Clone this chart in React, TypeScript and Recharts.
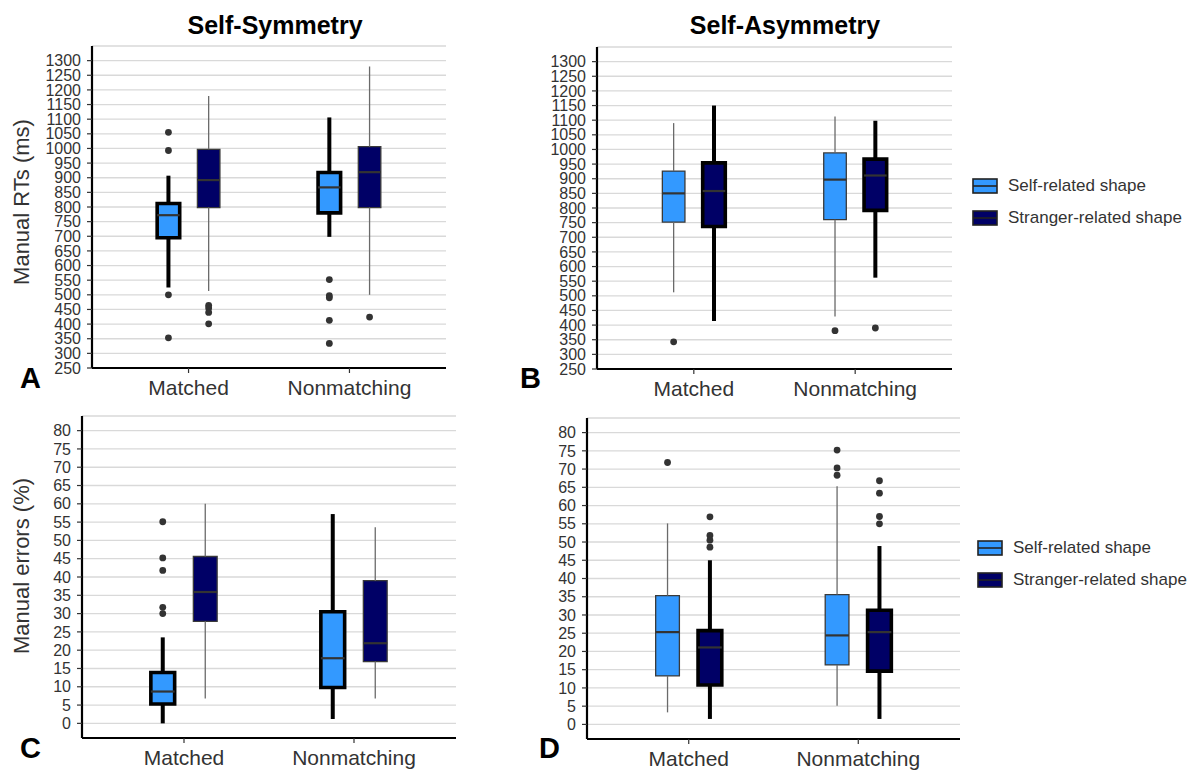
import React from "react";
import {
  ComposedChart,
  XAxis,
  YAxis,
  CartesianGrid,
  ReferenceArea,
  ReferenceLine,
  Scatter,
} from "recharts";

const categories = ["Matched", "Nonmatching"];
const seriesNames = ["Self-related shape", "Stranger-related shape"];
const seriesColors = ["#3399FF", "#000066"];

const rtTicks = [250, 300, 350, 400, 450, 500, 550, 600, 650, 700, 750, 800, 850, 900, 950, 1000, 1050, 1100, 1150, 1200, 1250, 1300];
const errTicks = [0, 5, 10, 15, 20, 25, 30, 35, 40, 45, 50, 55, 60, 65, 70, 75, 80];

// [lower whisker, Q1, median, Q3, upper whisker] for Matched, Nonmatching
const rtSymSelf = [[525, 695, 772, 812, 907], [698, 780, 867, 918, 1106]];
const rtSymStranger = [[513, 798, 892, 997, 1179], [500, 798, 919, 1006, 1280]];
const rtAsymSelf = [[512, 752, 850, 926, 1090], [429, 760, 897, 988, 1113]];
const rtAsymStranger = [[414, 737, 858, 954, 1150], [562, 792, 911, 967, 1098]];
const errSymSelf = [[0, 5.3, 8.7, 13.9, 23.5], [1.2, 9.8, 17.8, 30.5, 57.2]];
const errSymStranger = [[6.8, 27.9, 35.9, 45.6, 60.0], [6.8, 16.9, 21.9, 39.0, 53.6]];
const errAsymSelf = [[3.3, 13.3, 25.3, 35.3, 55.1], [5.1, 16.3, 24.4, 35.6, 65.3]];
const errAsymStranger = [[1.5, 10.8, 21.1, 25.7, 45.0], [1.5, 14.6, 25.3, 31.3, 48.9]];

// outliers per category
const rtSymSelfOut = [[1055, 993, 500, 353], [552, 497, 490, 413, 334]];
const rtSymStrangerOut = [[464, 455, 440, 401], [424]];
const rtAsymSelfOut = [[343], [381]];
const rtAsymStrangerOut = [[], [390]];
const errSymSelfOut = [[55.1, 45.2, 41.8, 31.7, 30.0], []];
const errSymStrangerOut = [[], []];
const errAsymSelfOut = [[71.8], [75.2, 70.3, 68.3]];
const errAsymStrangerOut = [[56.9, 51.8, 50.5, 48.6], [66.8, 63.4, 57.0, 55.0]];

const FONT = "'Liberation Sans', Arial, sans-serif";
const TEXT = "#333333";
const OFFSET = 0.125;
const HALF = 0.07;
const YW = 52;

type PanelProps = {
  plotLeft: number;
  plotTop: number;
  plotRight: number;
  plotBottom: number;
  domain: [number, number];
  ticks: number[];
  stats: number[][][];
  outliers: number[][][];
  thick: number;
};

function Panel({ plotLeft, plotTop, plotRight, plotBottom, domain, ticks, stats, outliers, thick }: PanelProps) {
  const w = plotRight - plotLeft + YW + 10;
  const h = plotBottom - plotTop + 10 + 42;

  const elems: React.ReactNode[] = [];
  const points: { x: number; y: number }[] = [];

  stats.forEach((series, s) => {
    const isThick = s === thick;
    const lineColor = isThick ? "#000" : "#6a6a6a";
    const lineW = isThick ? 4 : 1.3;
    series.forEach((st, i) => {
      const [lo, q1, med, q3, hi] = st;
      const xc = i + 1 + (s === 0 ? -OFFSET : OFFSET);
      elems.push(
        <ReferenceLine key={`wl${s}${i}`} segment={[{ x: xc, y: lo }, { x: xc, y: q1 }]} stroke={lineColor} strokeWidth={lineW} />,
        <ReferenceLine key={`wh${s}${i}`} segment={[{ x: xc, y: q3 }, { x: xc, y: hi }]} stroke={lineColor} strokeWidth={lineW} />,
        <ReferenceArea
          key={`b${s}${i}`}
          x1={xc - HALF}
          x2={xc + HALF}
          y1={q1}
          y2={q3}
          fill={seriesColors[s]}
          fillOpacity={1}
          stroke={isThick ? "#000" : "#3a3a3a"}
          strokeWidth={isThick ? 3.6 : 1.3}
        />,
        <ReferenceLine
          key={`m${s}${i}`}
          segment={[{ x: xc - HALF, y: med }, { x: xc + HALF, y: med }]}
          stroke="#333"
          strokeWidth={2.2}
        />
      );
      outliers[s][i].forEach((v) => points.push({ x: xc, y: v }));
    });
  });

  return (
    <div style={{ position: "absolute", left: plotLeft - YW, top: plotTop - 10 }}>
      <ComposedChart width={w} height={h} margin={{ top: 10, right: 10, bottom: 2, left: 0 }}>
        <CartesianGrid vertical={false} stroke="#d9d9d9" strokeWidth={1.3} />
        <XAxis
          type="number"
          dataKey="x"
          domain={[0.4, 2.6]}
          ticks={[1, 2]}
          interval={0}
          allowDataOverflow
          tickFormatter={(v: number) => categories[v - 1]}
          axisLine={{ stroke: "#000", strokeWidth: 2.2 }}
          tickLine={{ stroke: TEXT, strokeWidth: 1.2 }}
          tickSize={5}
          tickMargin={7}
          tick={{ fill: TEXT, fontSize: 21, fontFamily: FONT }}
          height={40}
        />
        <YAxis
          type="number"
          dataKey="y"
          domain={domain}
          ticks={ticks}
          interval={0}
          allowDataOverflow
          width={YW}
          axisLine={{ stroke: "#000", strokeWidth: 2.2 }}
          tickLine={{ stroke: TEXT, strokeWidth: 1.2 }}
          tickSize={5}
          tickMargin={6}
          tick={{ fill: TEXT, fontSize: 16, fontFamily: FONT }}
        />
        {elems}
        <Scatter
          data={points}
          dataKey="y"
          isAnimationActive={false}
          shape={(p: any) => <circle cx={p.cx} cy={p.cy} r={3.4} fill="#333" />}
        />
      </ComposedChart>
    </div>
  );
}

function Legend({ left, top }: { left: number; top: number }) {
  return (
    <div style={{ position: "absolute", left, top, fontFamily: FONT }}>
      {seriesNames.map((n, i) => (
        <div key={n} style={{ display: "flex", alignItems: "center", height: 32 }}>
          <svg width={26} height={16} style={{ marginRight: 10 }}>
            <rect x={1} y={1} width={24} height={14} fill={seriesColors[i]} stroke="#222" strokeWidth={1.6} />
            <line x1={1} x2={25} y1={8} y2={8} stroke="#222" strokeWidth={1.6} />
          </svg>
          <span style={{ fontSize: 17, color: TEXT }}>{n}</span>
        </div>
      ))}
    </div>
  );
}

const txt = (s: React.CSSProperties): React.CSSProperties => ({
  position: "absolute",
  fontFamily: FONT,
  color: TEXT,
  whiteSpace: "nowrap",
  lineHeight: 1,
  ...s,
});

export default function App() {
  return (
    <div style={{ position: "absolute", left: 0, top: 0, width: 1191, height: 772, background: "#fff", overflow: "hidden" }}>
      <Panel plotLeft={92} plotTop={46} plotRight={446} plotBottom={368} domain={[250, 1350]} ticks={rtTicks}
        stats={[rtSymSelf, rtSymStranger]} outliers={[rtSymSelfOut, rtSymStrangerOut]} thick={0} />
      <Panel plotLeft={597} plotTop={47} plotRight={952} plotBottom={369} domain={[250, 1350]} ticks={rtTicks}
        stats={[rtAsymSelf, rtAsymStranger]} outliers={[rtAsymSelfOut, rtAsymStrangerOut]} thick={1} />
      <Panel plotLeft={82} plotTop={416} plotRight={456} plotBottom={738} domain={[-4, 84]} ticks={errTicks}
        stats={[errSymSelf, errSymStranger]} outliers={[errSymSelfOut, errSymStrangerOut]} thick={0} />
      <Panel plotLeft={587} plotTop={418} plotRight={960} plotBottom={739} domain={[-4, 84]} ticks={errTicks}
        stats={[errAsymSelf, errAsymStranger]} outliers={[errAsymSelfOut, errAsymStrangerOut]} thick={1} />

      <div style={txt({ left: 275, top: 13, transform: "translateX(-50%)", fontSize: 25, fontWeight: 700, color: "#000" })}>Self-Symmetry</div>
      <div style={txt({ left: 785, top: 13, transform: "translateX(-50%)", fontSize: 25, fontWeight: 700, color: "#000" })}>Self-Asymmetry</div>

      <div style={txt({ left: 22, top: 202, transform: "translate(-50%, -50%) rotate(-90deg)", fontSize: 22 })}>Manual RTs (ms)</div>
      <div style={txt({ left: 22, top: 566, transform: "translate(-50%, -50%) rotate(-90deg)", fontSize: 22 })}>Manual errors (%)</div>

      <div style={txt({ left: 20, top: 364, fontSize: 29, fontWeight: 700, color: "#000" })}>A</div>
      <div style={txt({ left: 520, top: 364, fontSize: 29, fontWeight: 700, color: "#000" })}>B</div>
      <div style={txt({ left: 20, top: 734, fontSize: 29, fontWeight: 700, color: "#000" })}>C</div>
      <div style={txt({ left: 539, top: 734, fontSize: 29, fontWeight: 700, color: "#000" })}>D</div>

      <Legend left={972} top={170} />
      <Legend left={977} top={532} />
    </div>
  );
}
